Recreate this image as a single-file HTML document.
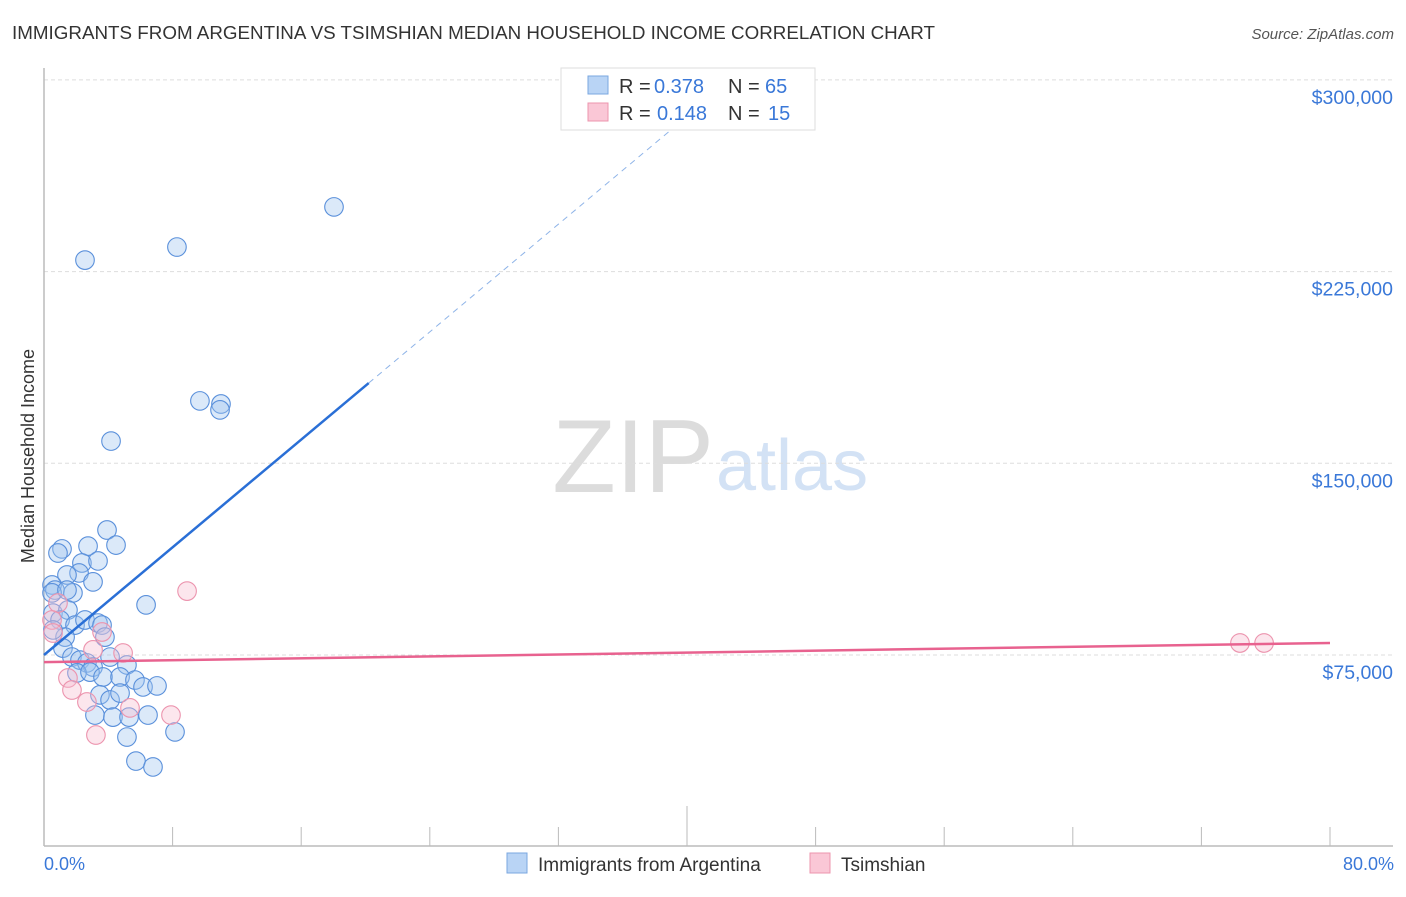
<!DOCTYPE html>
<html><head><meta charset="utf-8"><style>
body{margin:0;background:#fff;font-family:"Liberation Sans",sans-serif;}
svg text{font-family:"Liberation Sans",sans-serif;}
</style></head><body>
<svg id="chart" width="1406" height="892" xmlns="http://www.w3.org/2000/svg">
<text x="12" y="39" font-size="18" fill="#333" textLength="923" lengthAdjust="spacingAndGlyphs">IMMIGRANTS FROM ARGENTINA VS TSIMSHIAN MEDIAN HOUSEHOLD INCOME CORRELATION CHART</text>
<text x="1394" y="39" font-size="15" fill="#555" text-anchor="end" font-style="italic">Source: ZipAtlas.com</text>
<text x="714" y="492" font-size="104" fill="#dcdcdc" text-anchor="end" font-family="Liberation Serif">ZIP</text>
<text x="716" y="490" font-size="72" fill="#d3e2f5">atlas</text>
<text transform="translate(34,456) rotate(-90)" font-size="18" fill="#333" text-anchor="middle">Median Household Income</text>
<g id="grid"></g><g id="axes"></g><g id="marks"></g><g id="lines"></g>
<g>
<rect x="561" y="68" width="254" height="62" fill="#fff" stroke="#ddd"/>
<rect x="588" y="76" width="20" height="18" fill="#b9d4f5" stroke="#7aa7e0"/>
<text x="619" y="93" font-size="20" fill="#333">R =</text>
<text x="654" y="93" font-size="20" fill="#3a78d8">0.378</text>
<text x="728" y="93" font-size="20" fill="#333">N =</text>
<text x="765" y="93" font-size="20" fill="#3a78d8">65</text>
<rect x="588" y="103" width="20" height="18" fill="#fac7d6" stroke="#ec94ae"/>
<text x="619" y="120" font-size="20" fill="#333">R =</text>
<text x="657" y="120" font-size="20" fill="#3a78d8">0.148</text>
<text x="728" y="120" font-size="20" fill="#333">N =</text>
<text x="768" y="120" font-size="20" fill="#3a78d8">15</text>
</g>
<g>
<rect x="507" y="853" width="20" height="20" fill="#b9d4f5" stroke="#7aa7e0"/>
<text x="538" y="871" font-size="19" fill="#333">Immigrants from Argentina</text>
<rect x="810" y="853" width="20" height="20" fill="#fac7d6" stroke="#ec94ae"/>
<text x="841" y="871" font-size="19" fill="#333">Tsimshian</text>
</g>
<text x="44" y="870" font-size="18" fill="#3a78d8">0.0%</text>
<text x="1394" y="870" font-size="18" fill="#3a78d8" text-anchor="end">80.0%</text>
</svg>
<script>
const blueX=[2.55,8.27,18.04,9.70,11.01,10.95,4.17,3.92,4.48,2.74,1.12,0.87,2.36,3.36,2.18,1.43,3.05,0.50,0.68,1.80,0.50,1.43,6.35,0.56,1.49,1.00,1.93,2.55,3.36,3.61,3.79,1.31,0.56,1.18,1.74,2.24,2.67,3.05,4.11,5.16,2.05,2.86,3.67,4.73,5.66,6.16,7.03,3.48,4.11,4.73,3.17,4.29,5.29,6.47,8.15,5.16,5.72,6.78];
const blueY=[229.5,234.6,250.3,174.4,173.2,170.9,158.7,123.9,118.0,117.6,116.5,114.9,111.0,111.8,107.1,106.3,103.6,102.4,100.4,99.3,99.3,100.4,94.6,91.4,92.6,88.7,86.7,88.7,87.5,86.7,82.0,82.0,84.8,77.7,74.2,73.0,71.9,70.3,74.2,71.1,68.0,68.3,66.4,66.4,65.2,62.5,62.9,59.4,57.4,60.1,51.5,50.7,50.7,51.5,44.9,42.9,33.5,31.2];
const pinkX=[8.90,0.87,0.50,0.56,3.61,3.05,4.92,1.49,1.74,2.67,5.35,7.90,3.23,74.4,75.9];
const pinkY=[100.0,95.3,88.7,83.6,84.0,77.0,75.8,66.0,61.3,56.6,54.3,51.5,43.7,79.7,79.7];
const blueLine=[75.0,181.4];
const blueLineX=[0,20.2];
const pinkLine=[72.2,79.7];
const pinkLineX=[0,80];
const yTicks=[75,150,225,300];
const yTickLabels=["$75,000","$150,000","$225,000","$300,000"];
const xTicks=[0,8,16,24,32,40,48,56,64,72,80];
const NS="http://www.w3.org/2000/svg";
const sx=v=>44+v*16.075;
const sy=v=>846.7-v*2.556;
function mk(tag,attrs,parent){const e=document.createElementNS(NS,tag);for(const k in attrs)e.setAttribute(k,attrs[k]);document.getElementById(parent).appendChild(e);return e;}
yTicks.forEach((t,i)=>{
 const g=mk('line',{x1:44,x2:1393,y1:sy(t),y2:sy(t),stroke:'#ddd','stroke-dasharray':'4,3'},'grid');
 
 
 const tx=mk('text',{x:1393,y:sy(t)+24,'font-size':19.5,fill:'#3a78d8','text-anchor':'end'},'grid');
 tx.textContent=yTickLabels[i];
 
 
});
const ax=mk('line',{x1:44,x2:1393,y1:846,y2:846,stroke:'#bbb','stroke-width':1.5},'axes');


const ay=mk('line',{x1:44,x2:44,y1:68,y2:846,stroke:'#bbb','stroke-width':1.5},'axes');


xTicks.forEach((t,i)=>{
 const l=mk('line',{x1:sx(t),x2:sx(t),y1:(i==5?806:827),y2:846,stroke:'#bbb'},'axes');
 
 
});
blueX.forEach((x,i)=>{
 const c=mk('circle',{cx:sx(x),cy:sy(blueY[i]),r:9.3,fill:'rgba(160,196,240,0.38)',stroke:'#5a90db','stroke-width':1.1},'marks');
 
 
});
pinkX.forEach((x,i)=>{
 const c=mk('circle',{cx:sx(x),cy:sy(pinkY[i]),r:9.3,fill:'rgba(248,190,208,0.38)',stroke:'#ec94ae','stroke-width':1.1},'marks');
 
 
});
const slope=(blueLine[1]-blueLine[0])/(blueLineX[1]-blueLineX[0]);
const xEnd=(300-blueLine[0])/slope;
const bd=mk('line',{x1:sx(blueLineX[1]),y1:sy(blueLine[1]),x2:sx(xEnd),y2:sy(300),stroke:'#8fb4e8','stroke-width':1,'stroke-dasharray':'6,5'},'lines');


const bl=mk('line',{x1:sx(blueLineX[0]),y1:sy(blueLine[0]),x2:sx(blueLineX[1]),y2:sy(blueLine[1]),stroke:'#2a6fd6','stroke-width':2.5},'lines');


const pl=mk('line',{x1:sx(pinkLineX[0]),y1:sy(pinkLine[0]),x2:sx(pinkLineX[1]),y2:sy(pinkLine[1]),stroke:'#e8628f','stroke-width':2.5},'lines');


</script>
</body></html>
